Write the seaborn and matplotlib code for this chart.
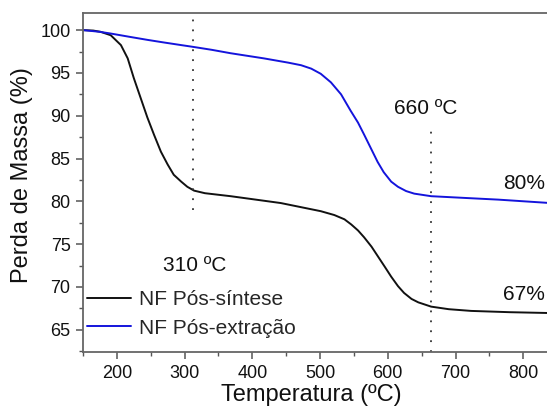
import matplotlib
matplotlib.use("Agg")
import matplotlib.pyplot as plt
import seaborn as sns
import pandas as pd
from matplotlib.ticker import MultipleLocator

# --- data ---
t_sintese = [150, 165, 176, 191, 206, 216, 225, 235, 245, 255, 265, 275, 284, 295, 304, 314,
             330, 368, 442, 501, 521, 536, 546, 556, 565, 576, 586, 596, 605, 615, 624, 635,
             645, 664, 690, 723, 780, 840]
m_sintese = [100, 99.95, 99.8, 99.4, 98.25, 96.7, 94.4, 92.1, 89.8, 87.75, 85.8, 84.3, 83.1, 82.3, 81.7, 81.25,
             80.95, 80.6, 79.8, 78.85, 78.4, 77.9, 77.3, 76.6, 75.8, 74.7, 73.5, 72.3, 71.2, 70.1, 69.3, 68.6,
             68.2, 67.7, 67.4, 67.2, 67.05, 66.95]

t_extracao = [150, 175, 191, 220, 246, 270, 295, 312, 340, 368, 417, 453, 472, 487, 501,
              516, 531, 545, 556, 565, 575, 585, 594, 605, 615, 627, 639, 664, 713, 763, 840]
m_extracao = [100, 99.8, 99.6, 99.2, 98.85, 98.55, 98.25, 98.05, 97.7, 97.3, 96.7, 96.2, 95.9, 95.5, 94.9,
              93.9, 92.5, 90.6, 89.2, 87.8, 86.2, 84.6, 83.4, 82.3, 81.7, 81.2, 80.9, 80.6, 80.4, 80.2, 79.8]

series_names = ["NF Pós-síntese", "NF Pós-extração"]
series_colors = ["#111111", "#1414dc"]

marker_temps = [312, 664]
marker_labels = ["310 ºC", "660 ºC"]
final_labels = ["80%", "67%"]
x_ticks = [200, 300, 400, 500, 600, 700, 800]

df = pd.concat([
    pd.DataFrame({"T": t_sintese, "m": m_sintese, "s": series_names[0]}),
    pd.DataFrame({"T": t_extracao, "m": m_extracao, "s": series_names[1]}),
])

sns.set_theme(style="ticks")
plt.rcParams["font.family"] = ["Liberation Sans", "DejaVu Sans"]

fig = plt.figure(figsize=(5.47, 4.11), dpi=100)
ax = fig.add_axes([83 / 547, 59 / 411, 508 / 547, 339 / 411])

sns.lineplot(data=df, x="T", y="m", hue="s", palette=series_colors,
             hue_order=series_names, linewidth=1.4, ax=ax, sort=False)

ax.set_xlim(150, 900)
ax.set_ylim(62.4, 102)

# dotted markers
ax.plot([marker_temps[0], marker_temps[0]], [79.0, 102], linestyle=(0, (1, 4.5)),
        color="#333333", linewidth=1.3)
ax.plot([marker_temps[1], marker_temps[1]], [62.4, 88.3], linestyle=(0, (1, 4.5)),
        color="#333333", linewidth=1.3)

fs_ann = 15
ax.text(268, 72.5, marker_labels[0], fontsize=fs_ann, va="center", ha="left", color="#111111")
ax.text(609, 90.8, marker_labels[1], fontsize=fs_ann, va="center", ha="left", color="#111111")
ax.text(770, 82.1, final_labels[0], fontsize=fs_ann, va="center", ha="left", color="#111111")
ax.text(770, 69.1, final_labels[1], fontsize=fs_ann, va="center", ha="left", color="#111111")

ax.set_xticks(x_ticks)
ax.xaxis.set_minor_locator(MultipleLocator(50))
ax.yaxis.set_major_locator(MultipleLocator(5))
ax.yaxis.set_minor_locator(MultipleLocator(2.5))
ax.tick_params(axis="both", which="major", direction="out", length=5, width=1.1,
               color="#555555", labelsize=13, labelcolor="#111111", pad=4)
ax.tick_params(axis="both", which="minor", direction="out", length=3, width=1.0, color="#555555")

for side in ["left", "bottom", "top"]:
    ax.spines[side].set_color("#666666")
    ax.spines[side].set_linewidth(1.3)
ax.spines["right"].set_visible(False)

ax.set_xlabel("Temperatura (ºC)", fontsize=17, color="#111111")
ax.set_ylabel("Perda de Massa (%)", fontsize=17, color="#111111")
ax.xaxis.set_label_coords(0.449, -0.095)
ax.yaxis.set_label_coords(-0.098, 0.522)

leg = ax.legend(loc="lower left", bbox_to_anchor=(0.0, 0.03), frameon=False,
                fontsize=fs_ann, handlelength=2.1, handletextpad=0.4,
                labelspacing=0.45, borderpad=0.2, borderaxespad=0)
for h in leg.get_lines():
    h.set_linewidth(1.4)

fig.savefig("out.png", dpi=100)
